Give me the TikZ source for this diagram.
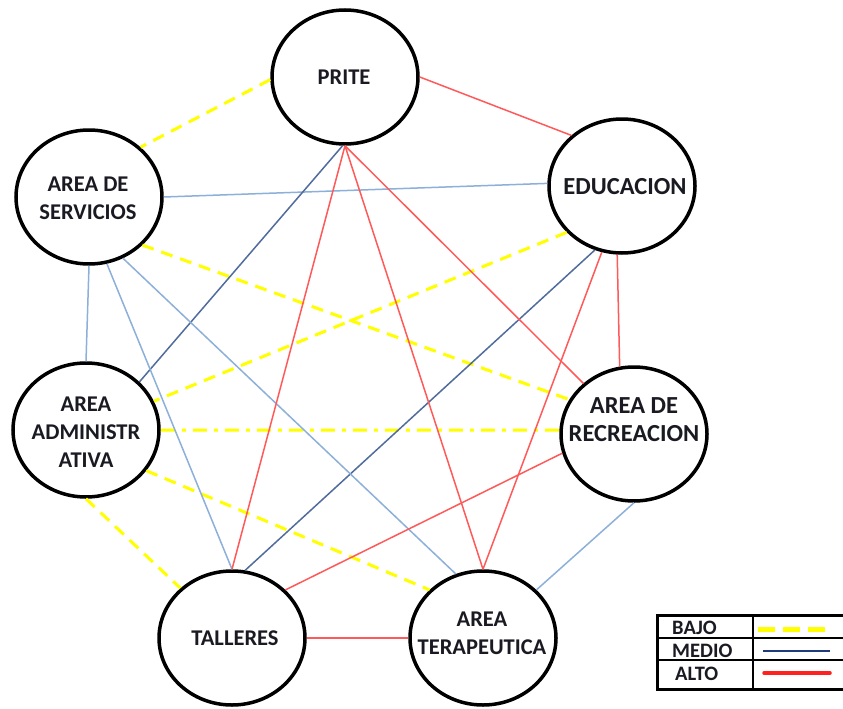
\documentclass[tikz,border=0pt]{standalone}
\usepackage{fontspec}
\setmainfont{Carlito}
\usetikzlibrary{shapes.geometric}
\definecolor{redL}{HTML}{FF5A5A}
\definecolor{blueL}{HTML}{8DB0DA}
\definecolor{blueD}{HTML}{506C9C}
\definecolor{yel}{HTML}{FFFF00}
\definecolor{navy}{HTML}{1F3C7A}
\definecolor{red2}{HTML}{FF2020}
\definecolor{txt}{HTML}{1A1A22}
\begin{document}
\begin{tikzpicture}[x=1pt,y=-1pt,
  circ/.style={ellipse,draw=black,line width=3.5pt,minimum width=146pt,minimum height=134pt,inner sep=0pt},
  lab/.style={font=\bfseries\fontsize{22.5}{28}\selectfont,align=center,inner sep=0pt,text=txt},
  labbig/.style={lab,font=\bfseries\fontsize{24.5}{28}\selectfont},
  leg/.style={font=\bfseries\fontsize{20.5}{22}\selectfont,inner sep=0pt,anchor=west,text=txt},
  bajo/.style={draw=yel,line width=3pt,dash pattern=on 12pt off 8pt},
  bajodot/.style={draw=yel,line width=3pt,dash pattern=on 14pt off 7pt on 4pt off 7pt},
  medio/.style={draw=blueD,line width=1.5pt},
  medioL/.style={draw=blueL,line width=1.5pt},
  alto/.style={draw=redL,line width=1.5pt},
]
\fill[white] (0,0) rectangle (843,709);
\useasboundingbox (0,0) rectangle (843,709);
\clip (0,0) rectangle (843,709);

% nodes
\node[circ] (P) at (345,77) {};
\node[circ] (S) at (89,197) {};
\node[circ] (A) at (86,430) {};
\node[circ] (R) at (634,434) {};
\node[circ] (E) at (622,186) {};
\node[circ] (T) at (232,638) {};
\node[circ] (Q) at (483,638) {};

\node[lab] (Pt) at (344,77) {PRITE};
\node[lab] (St) at (88,198) {AREA DE\\SERVICIOS};
\node[lab] (At) at (86,432) {AREA\\ADMINISTR\\ATIVA};
\node[labbig] (Rt) at (634,420) {AREA DE\\RECREACION};
\node[labbig] (Et) at (625,187) {EDUCACION};
\node[lab] (Tt) at (235,638) {TALLERES};
\node[lab] (Qt) at (482,633) {AREA\\TERAPEUTICA};

% BAJO
\draw[bajo] (P.182) -- (S.44);
\draw[bajo] (S.-42) -- (R.152);
\draw[bajo] (E.220) -- (A.23);
\draw[bajodot] (A.east) -- (R.177);
\draw[bajo] (A.-34) -- (Q.138);
\draw[bajo] (A.south) -- (T.136);

% MEDIO
\draw[medioL] (S.east) -- (E.178);
\draw[medio] (P.-92) -- (A.42);
\draw[medio] (E.-113) -- (T.79);
\draw[medioL] (S.south) -- (A.north);
\draw[medioL] (S.-75) -- (T.north);
\draw[medioL] (S.-61) -- (Q.113);
\draw[medioL] (R.south) -- (Q.42);

% ALTO
\draw[alto] (P.east) -- (E.135);
\draw[alto] (P.south) -- (T.north);
\draw[alto] (P.south) -- (Q.north);
\draw[alto] (P.south) -- (R.135);
\draw[alto] (E.-94) -- (R.102);
\draw[alto] (E.-107) -- (Q.north);
\draw[alto] (R.195) -- (T.42);
\draw[alto] (T.east) -- (Q.west);

% legend
\draw[line width=1.2pt] (657,638) -- (870,638) (657,660) -- (870,660) (753,615) -- (753,689);
\draw[line width=3pt] (657,615) rectangle (870,689);
\node[leg] (lb) at (672,628) {BAJO};
\node[leg] (lm) at (672,651) {MEDIO};
\node[leg] (la) at (675,674) {ALTO};
\draw[draw=yel,line width=5pt,dash pattern=on 17pt off 8pt] (758,629) -- (826,629);
\draw[draw=navy,line width=2pt] (763,651) -- (830,651);
\draw[draw=red2,line width=3.5pt,line cap=round] (764,673) -- (830,673);
\end{tikzpicture}
\end{document}
